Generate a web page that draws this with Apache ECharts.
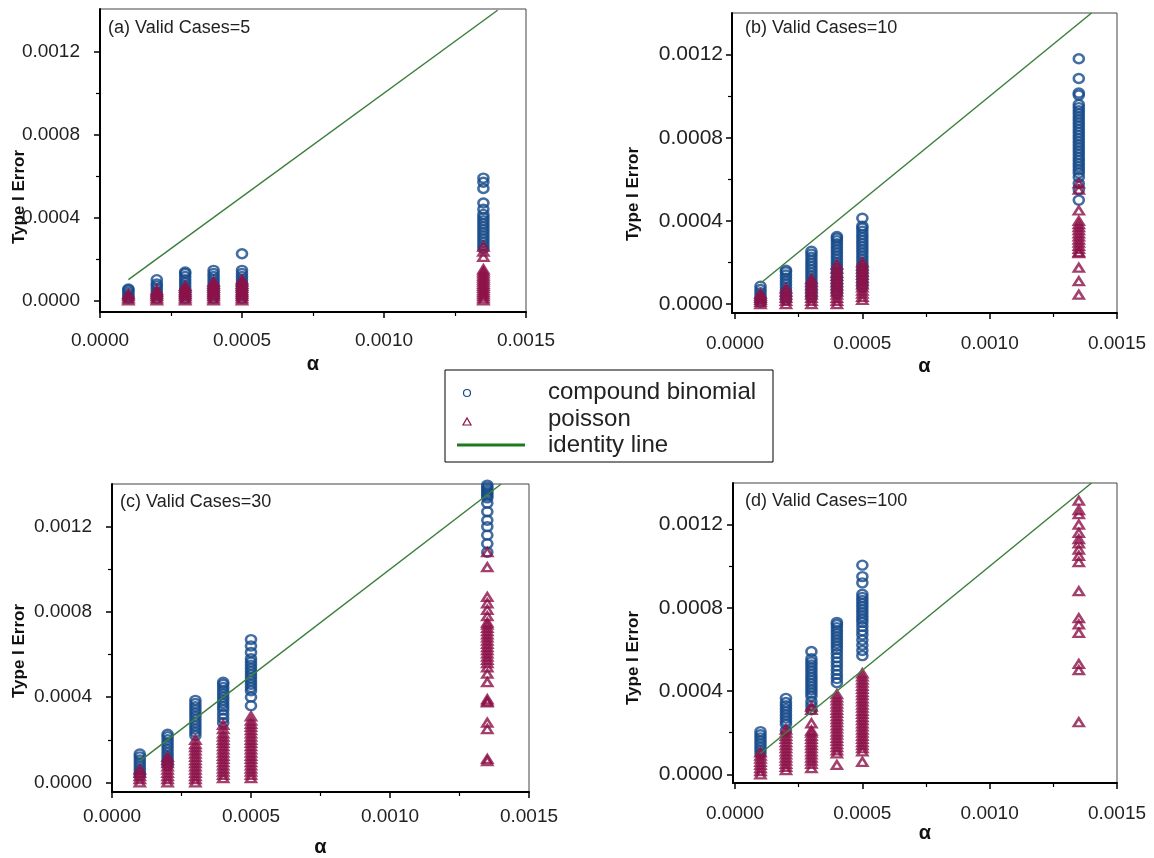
<!DOCTYPE html>
<html>
<head>
<meta charset="utf-8">
<script src="https://cdn.jsdelivr.net/npm/echarts@6/dist/echarts.min.js"></script>
<style>
  html, body { margin: 0; padding: 0; background: #ffffff; }
  #chart { width: 1154px; height: 858px; }
</style>
</head>
<body>
<div id="chart"></div>
<script>
// Nominal significance levels (α) at which each method was evaluated
const alphas = [0.0001, 0.0002, 0.0003, 0.0004, 0.0005, 0.00135];

// Observed Type I error rates, in units of 1e-5; one list per α above
const UNIT = 1e-5;

// (a) Valid Cases = 5
const binomA = [
  [1, 2, 3, 4, 5, 5.5],
  [1, 2.5, 4, 5.5, 7, 8, 10],
  [1, 2.5, 4, 5.5, 7, 8.5, 10, 11.5, 13, 13.7],
  [1, 2.5, 4, 5.5, 7, 8.5, 10, 11.5, 13, 14.5],
  [1, 2.5, 4, 5.5, 7, 8.5, 10, 11.5, 13, 14.5, 22.5],
  [59, 57, 54, 47, 44, 41.5, 40, 38.5, 37, 35.5, 34, 32.5, 31, 29.5, 28, 26.5, 25]
];
const poissonA = [
  [0, 1, 2, 3],
  [0, 1, 2, 3, 4, 5],
  [0, 1, 2, 3, 4, 5, 6, 7],
  [0, 1, 2, 3, 4, 5, 6, 7, 8, 9],
  [0, 1, 2, 3, 4, 5, 6, 7, 8, 9, 10],
  [0, 1, 2, 3, 4, 5, 6, 7, 8, 9, 10, 11, 12, 13, 14, 15, 21, 23.5, 26]
];

// (b) Valid Cases = 10
const binomB = [
  [1, 2.5, 4, 5.5, 7, 8.6],
  [2, 3.5, 5, 6.5, 8, 9.5, 11, 12.5, 14, 15.5, 16.3],
  [3, 4.5, 6, 7.5, 9, 10.5, 12, 13.5, 15, 16.5, 18, 19.5, 21, 22.5, 24, 25.4],
  [5, 6.5, 8, 9.5, 11, 12.5, 14, 15.5, 17, 18.5, 20, 21.5, 23, 24.5, 26, 27.5, 29, 30.5, 31.7, 32.5],
  [8, 9.5, 11, 12.5, 14, 15.5, 17, 18.5, 20, 21.5, 23, 24.5, 26, 27.5, 29, 30.5, 32, 33.5, 35, 36.5, 37.5, 41.3],
  [118, 108.5, 101.5, 100.5, 96, 94.5, 93, 91.5, 90, 88.5, 87, 85.5, 84, 82.5, 81, 79.5, 78, 76.5, 75, 73.5, 72, 70.5, 69, 67.5, 66, 64.5, 63, 61, 58, 55, 50]
];
const poissonB = [
  [0, 1, 2, 3, 4, 5],
  [0, 1.5, 3, 4.5, 6, 7.5],
  [0, 1.5, 3, 4.5, 6, 7.5, 9, 10.5, 12],
  [0, 1.5, 3, 4.5, 6, 7.5, 9, 10.5, 12, 13.5, 15, 17, 19],
  [2, 3.5, 5, 6.5, 8, 9.5, 11, 12.5, 14, 15.5, 17, 18.5, 20],
  [58, 55, 45, 40, 38.5, 37, 35.5, 34, 32.5, 31, 29.5, 28, 26.5, 25, 24.5, 17.5, 11, 4.5]
];

// (c) Valid Cases = 30
const binomC = [
  [3, 4.5, 6, 7.5, 9, 10.5, 12, 13.3],
  [8, 9.5, 11, 12.5, 14, 15.5, 17, 18.5, 20, 21.5, 22.6],
  [22, 23.5, 25, 26.5, 28, 29.5, 31, 32.5, 34, 35.5, 37, 38.5],
  [28, 30, 32, 34, 35.5, 37, 38.5, 40, 41.5, 43, 44.5, 46, 47],
  [36, 40, 43, 44.5, 46, 47.5, 49, 50.5, 52, 53.5, 55, 56.5, 58, 61, 64, 67],
  [139.5, 138.5, 137.5, 136.5, 135.5, 134.5, 133.5, 131, 127, 123, 120, 116, 112, 108]
];
const poissonC = [
  [0, 1.5, 3, 4.5, 6],
  [0, 1.5, 3, 4.5, 6, 7.5, 9, 10.5, 12],
  [0, 1.5, 3, 4.5, 6, 7.5, 9, 10.5, 12, 13.5, 15, 16.5, 18, 20],
  [2, 3.5, 5, 6.5, 8, 9.5, 11, 12.5, 14, 15.5, 17, 18.5, 20, 21.5, 23, 25, 27],
  [2, 3.5, 5, 6.5, 8, 9.5, 11, 12.5, 14, 15.5, 17, 18.5, 20, 21.5, 23, 24.5, 26, 27.5, 29, 31],
  [108, 101, 87, 84, 81, 78, 75, 74, 72.5, 71, 69.5, 68, 66.5, 65, 63.5, 62, 60.5, 59, 57.5, 56, 54, 51, 47, 39, 38, 37.5, 28, 25, 11, 10]
];

// (d) Valid Cases = 100
const binomD = [
  [10, 11.5, 13, 14.5, 16, 17.5, 19, 20.5],
  [21, 24, 25.5, 27, 28.5, 30, 31.5, 33, 34.5, 36.5],
  [31, 33, 35, 37.5, 39, 40.5, 42, 43.5, 45, 46.5, 48, 49.5, 51, 52.5, 54, 55.5, 59],
  [44, 46, 48, 50, 52, 54, 56, 58, 60, 61.5, 63, 64.5, 66, 67.5, 69, 70.5, 72, 73],
  [57, 59.5, 62, 64.5, 67, 69, 71, 73, 74.5, 76, 77.5, 79, 80.5, 82, 83.5, 85, 86.5, 92, 95, 100.5],
  []
];
const poissonD = [
  [0, 1.5, 3, 4.5, 6, 7.5, 9, 10.5],
  [2, 3.5, 5, 6.5, 8, 9.5, 11, 12.5, 14, 15.5, 17, 18.5, 20, 21.5],
  [3, 5, 6.5, 8, 9.5, 11, 12.5, 14, 15.5, 17, 18.5, 20, 21, 24.5, 31, 32.5],
  [4.5, 10, 11.5, 13, 14.5, 16, 17.5, 19, 20.5, 22, 23.5, 25, 26.5, 28, 29.5, 31, 32.5, 34, 35.5, 37, 38.5],
  [6, 11, 12.5, 14, 15.5, 17, 18.5, 20, 21.5, 23, 24.5, 26, 27.5, 29, 30.5, 32, 33.5, 35, 36.5, 38, 39.5, 41, 42.5, 44, 45.5, 47, 48.5],
  [131.5, 127, 125, 120, 116, 113, 111, 108, 105, 102, 88, 75, 72, 68, 53, 50, 25]
];

// Reference line y = x
const identityLine = [[0.0001, 0.0001], [0.0014, 0.0014]];

// Axis ticks
const xTicks = [0, 0.0005, 0.0010, 0.0015];
const xMinorTicks = [0.00025, 0.00075, 0.00125];
const yTicks = [0, 0.0004, 0.0008, 0.0012];
const yMinorTicks = [0.0002, 0.0006, 0.0010];

const panelTitles = ['(a) Valid Cases=5', '(b) Valid Cases=10', '(c) Valid Cases=30', '(d) Valid Cases=100'];
const binomData = [binomA, binomB, binomC, binomD];
const poissonData = [poissonA, poissonB, poissonC, poissonD];

const BLUE = '#154a89';
const MAROON = '#8c1148';
const GREEN = '#3d7f3d';
const FONT = '"Liberation Sans", Arial, sans-serif';

// Pixel layout of the four panels
const layout = [
  { grid: { left: 100, top: 9, width: 426, height: 303 }, x: [0, 0.0015], y: [-0.000056, 0.001406],
    yLabelSize: 19, yMargin: 20, xMargin: 19, nameGap: 42, title: [108, 28], yName: [19, 197] },
  { grid: { left: 732, top: 13, width: 385, height: 300 }, x: [-0.000012, 0.0015], y: [-0.000043, 0.0014],
    yLabelSize: 21, yMargin: 9, xMargin: 21, nameGap: 43, title: [745, 28], yName: [633, 194] },
  { grid: { left: 112, top: 484, width: 417, height: 309 }, x: [0, 0.0015], y: [-0.000045, 0.0014],
    yLabelSize: 19, yMargin: 20, xMargin: 15, nameGap: 45, title: [120, 502], yName: [19, 651] },
  { grid: { left: 733, top: 483, width: 384, height: 300 }, x: [-0.000008, 0.0015], y: [-0.000042, 0.0014],
    yLabelSize: 21, yMargin: 10, xMargin: 21, nameGap: 40, title: [745, 501], yName: [633, 658] }
];

function toPoints(groups) {
  const pts = [];
  groups.forEach((vals, i) => vals.forEach(v => pts.push([alphas[i], v * UNIT])));
  return pts;
}

const fmt = v => v.toFixed(4);
const grids = [], xAxes = [], yAxes = [], series = [], graphics = [];

layout.forEach((p, i) => {
  grids.push(Object.assign({ show: true, borderColor: '#444', borderWidth: 1, backgroundColor: '#fff' }, p.grid));

  // major axes
  xAxes.push({
    type: 'value', gridIndex: i, min: p.x[0], max: p.x[1], position: 'bottom',
    name: 'α', nameLocation: 'middle', nameGap: p.nameGap,
    nameTextStyle: { fontFamily: FONT, fontWeight: 'bold', fontSize: 20, color: '#111' },
    axisLine: { show: true, onZero: false, lineStyle: { color: '#000', width: 2 } },
    axisTick: { show: true, customValues: xTicks, length: 6, lineStyle: { color: '#000', width: 1.5 } },
    axisLabel: { show: true, customValues: xTicks, formatter: fmt, margin: p.xMargin,
      fontFamily: FONT, fontSize: 19, color: '#222' },
    splitLine: { show: false }
  });
  yAxes.push({
    type: 'value', gridIndex: i, min: p.y[0], max: p.y[1], position: 'left',
    axisLine: { show: true, onZero: false, lineStyle: { color: '#000', width: 2 } },
    axisTick: { show: true, customValues: yTicks, length: 6, lineStyle: { color: '#000', width: 1.5 } },
    axisLabel: { show: true, customValues: yTicks, formatter: fmt, margin: p.yMargin,
      fontFamily: FONT, fontSize: p.yLabelSize, color: '#222' },
    splitLine: { show: false }
  });
  // minor-tick axes
  xAxes.push({
    type: 'value', gridIndex: i, min: p.x[0], max: p.x[1], position: 'bottom', offset: 0,
    axisLine: { show: false, onZero: false },
    axisTick: { show: true, customValues: xMinorTicks, length: 4, lineStyle: { color: '#000', width: 1.2 } },
    axisLabel: { show: false }, splitLine: { show: false }
  });
  yAxes.push({
    type: 'value', gridIndex: i, min: p.y[0], max: p.y[1], position: 'left', offset: 0,
    axisLine: { show: false, onZero: false },
    axisTick: { show: true, customValues: yMinorTicks, length: 4, lineStyle: { color: '#000', width: 1.2 } },
    axisLabel: { show: false }, splitLine: { show: false }
  });

  const xi = i * 2, yi = i * 2;
  series.push({
    name: 'compound binomial', type: 'scatter', xAxisIndex: xi, yAxisIndex: yi,
    data: toPoints(binomData[i]), symbol: 'circle', symbolSize: [10, 9], clip: false,
    itemStyle: { color: 'rgba(0,0,0,0)', borderColor: BLUE, borderWidth: 2.5 },
    silent: true, z: 2
  });
  series.push({
    name: 'poisson', type: 'scatter', xAxisIndex: xi, yAxisIndex: yi,
    data: toPoints(poissonData[i]), symbol: 'triangle', symbolSize: [10, 8], clip: false,
    itemStyle: { color: 'rgba(0,0,0,0)', borderColor: MAROON, borderWidth: 2.5 },
    silent: true, z: 3
  });
  series.push({
    name: 'identity line', type: 'line', xAxisIndex: xi, yAxisIndex: yi,
    data: identityLine, symbol: 'none', lineStyle: { color: GREEN, width: 1.5 },
    silent: true, z: 4
  });

  graphics.push({
    type: 'text', x: p.title[0], y: p.title[1], z: 10,
    style: { text: panelTitles[i], font: '18px ' + FONT, fill: '#222', verticalAlign: 'middle', align: 'left' }
  });
  graphics.push({
    type: 'text', x: p.yName[0], y: p.yName[1], rotation: Math.PI / 2, z: 10,
    style: { text: 'Type I Error', font: 'bold 17px ' + FONT, fill: '#111', align: 'center', verticalAlign: 'middle' }
  });
});

// Shared legend box
graphics.push({
  type: 'group', z: 20,
  children: [
    { type: 'rect', shape: { x: 445, y: 370, width: 328, height: 92 },
      style: { fill: '#fff', stroke: '#000', lineWidth: 1 } },
    { type: 'circle', shape: { cx: 467, cy: 393, r: 3.5 },
      style: { fill: 'none', stroke: BLUE, lineWidth: 1.2 } },
    { type: 'polygon', shape: { points: [[463, 425], [471, 425], [467, 418]] },
      style: { fill: 'none', stroke: MAROON, lineWidth: 1.2 } },
    { type: 'line', shape: { x1: 457, y1: 445, x2: 525, y2: 445 },
      style: { stroke: '#1f7a1f', lineWidth: 3 } },
    { type: 'text', x: 548, y: 392,
      style: { text: 'compound binomial', font: '24px ' + FONT, fill: '#222', verticalAlign: 'middle' } },
    { type: 'text', x: 548, y: 419,
      style: { text: 'poisson', font: '24px ' + FONT, fill: '#222', verticalAlign: 'middle' } },
    { type: 'text', x: 548, y: 445,
      style: { text: 'identity line', font: '24px ' + FONT, fill: '#222', verticalAlign: 'middle' } }
  ]
});

const chart = echarts.init(document.getElementById('chart'), null, { renderer: 'canvas' });
chart.setOption({
  backgroundColor: '#ffffff',
  animation: false,
  grid: grids,
  xAxis: xAxes,
  yAxis: yAxes,
  series: series,
  graphic: graphics
});
</script>
</body>
</html>
